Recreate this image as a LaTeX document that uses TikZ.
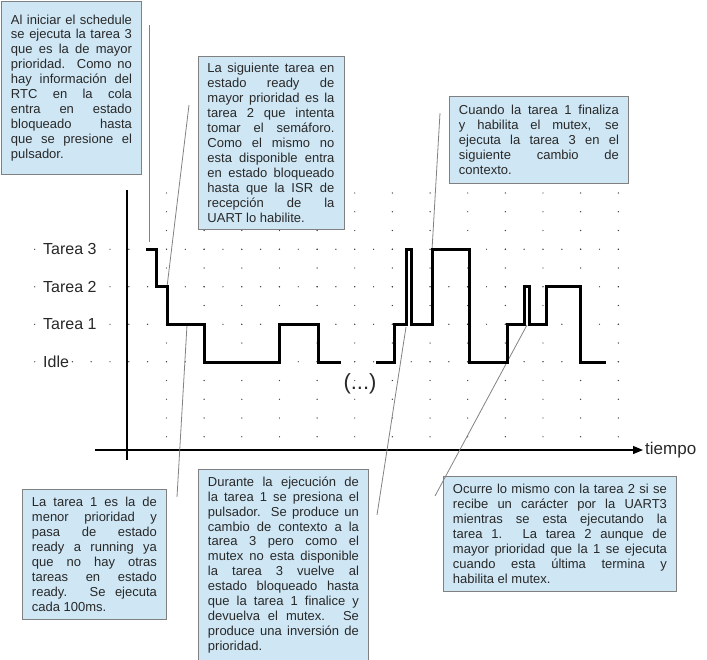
\documentclass[tikz,border=0pt]{standalone}
\usepackage{fontspec}
\setmainfont{Liberation Sans}
\usetikzlibrary{arrows.meta}
\definecolor{fondonota}{RGB}{207,231,245}
\definecolor{bordenota}{RGB}{128,128,128}
\definecolor{textonota}{RGB}{40,40,40}
\definecolor{guiagris}{RGB}{130,130,130}

\begin{document}
\begin{tikzpicture}[x=1pt, y=-1pt,
	nota/.style={draw=bordenota, line width=0.9pt, fill=fondonota, text=textonota, align=justify, anchor=north west, inner xsep=9.5pt, inner ysep=4pt, font=\fontsize{13}{14.95}\selectfont},
	nivel/.style={anchor=west, fill=white, inner sep=0pt, text=textonota, font=\fontsize{16}{18}\selectfont},
	guia/.style={draw=guiagris, line width=0.8pt},
	onda/.style={line width=3pt},
	eje/.style={line width=1.2pt}]
		\useasboundingbox (0,0) rectangle (707,659);
		\foreach \i in {0,...,12}
			\foreach \j in {0,...,13}
				\fill[black!75] ({166.5+37.65*\i},{193+18.75*\j}) circle (0.7pt);
		\foreach \y in {249.25,286.75,324.25,361.75}
			\foreach \i in {0,...,31}
				\fill[black!75] ({34.7+18.825*\i},\y) circle (0.7pt);
		\node (t3) [nivel] at (43,249.25) {Tarea 3};
		\node (t2) [nivel] at (43,286.75) {Tarea 2};
		\node (t1) [nivel] at (43,324.25) {Tarea 1};
		\node (idle) [nivel] at (43,361.75) {Idle};
		\node (tiempo) [nivel, fill=none, inner sep=2pt, font=\fontsize{17}{19}\selectfont] at (643,450) {tiempo};
		\node (puntos) [nivel, fill=none, anchor=center, font=\fontsize{22}{24}\selectfont] at (360,384) {(...)};
		\coordinate (y0) at (127,460);
		\coordinate (y1) at (127,190);
		\coordinate (x0) at (95,450);
		\draw[eje] (y0) -- (y1);
		\draw[eje, -{Triangle[length=10pt,width=8pt]}] (x0) -- (tiempo.west);
		\node (nA) [nota, text width=121pt, minimum height=173pt] at (1,1) {Al iniciar el schedule\linebreak se ejecuta la tarea 3\linebreak que es la de mayor\linebreak prioridad. Como no\linebreak hay información del\linebreak RTC en la cola\linebreak entra en estado\linebreak bloqueado hasta\linebreak que se presione el\linebreak pulsador.};
		\node (nB) [nota, text width=127pt, minimum height=173pt] at (197.5,56) {La siguiente tarea en\linebreak estado ready de\linebreak mayor prioridad es la\linebreak tarea 2 que intenta\linebreak tomar el semáforo.\linebreak Como el mismo no\linebreak esta disponible entra\linebreak en estado bloqueado\linebreak hasta que la ISR de\linebreak recepción de la\linebreak UART lo habilite.};
		\node (nC) [nota, text width=160pt, minimum height=87pt] at (449,96) {Cuando la tarea 1 finaliza\linebreak y habilita el mutex, se\linebreak ejecuta la tarea 3 en el\linebreak siguiente cambio de\linebreak contexto.};
		\node (nD) [nota, text width=125pt, minimum height=130pt] at (22,489) {La tarea 1 es la de\linebreak menor prioridad y\linebreak pasa de estado\linebreak ready a running ya\linebreak que no hay otras\linebreak tareas en estado\linebreak ready. Se ejecuta\linebreak cada 100ms.};
		\node (nE) [nota, text width=151pt, minimum height=191pt] at (198,469) {Durante la ejecución de\linebreak la tarea 1 se presiona el\linebreak pulsador. Se produce un\linebreak cambio de contexto a la\linebreak tarea 3 pero como el\linebreak mutex no esta disponible\linebreak la tarea 3 vuelve al\linebreak estado bloqueado hasta\linebreak que la tarea 1 finalice y\linebreak devuelva el mutex. Se\linebreak produce una inversión de\linebreak prioridad.};
		\node (nF) [nota, text width=214pt, minimum height=115pt] at (443,476) {Ocurre lo mismo con la tarea 2 si se\linebreak recibe un carácter por la UART3\linebreak mientras se esta ejecutando la\linebreak tarea 1. La tarea 2 aunque de\linebreak mayor prioridad que la 1 se ejecuta\linebreak cuando esta última termina y\linebreak habilita el mutex.};
		\coordinate (gA) at (149,25);
		\coordinate (pA) at (149,242);
		\coordinate (gB) at (189,105);
		\coordinate (pB) at (167,287);
		\coordinate (gC) at (440,113);
		\coordinate (pC) at (432,250);
		\coordinate (pD) at (187,325);
		\coordinate (gD) at (177,497);
		\coordinate (pE) at (406,327);
		\coordinate (gE) at (377,515);
		\coordinate (pF) at (527,325);
		\coordinate (gF) at (435,496);
		\draw[guia] (gA) -- (pA);
		\draw[guia] (gB) -- (pB);
		\draw[guia] (gC) -- (pC);
		\draw[guia] (pD) -- (gD);
		\draw[guia] (pE) -- (gE);
		\draw[guia] (pF) -- (gF);
		\draw[onda] (146,249.25) -| (156,286.75) -| (167,324.25) -| (204,362.5) -| (279,324.25) -| (318,362.5) -- (341,362.5);
		\draw[onda] (376,362.5) -| (394,324.25) -| (406,249.25) -| (411,324.25) -| (432,249.25) -| (469,362.5) -| (507,324.25) -| (524,286.75) -| (529,324.25) -| (546,286.75) -| (580,362.5) -- (606,362.5);
		\end{tikzpicture}
\end{document}
